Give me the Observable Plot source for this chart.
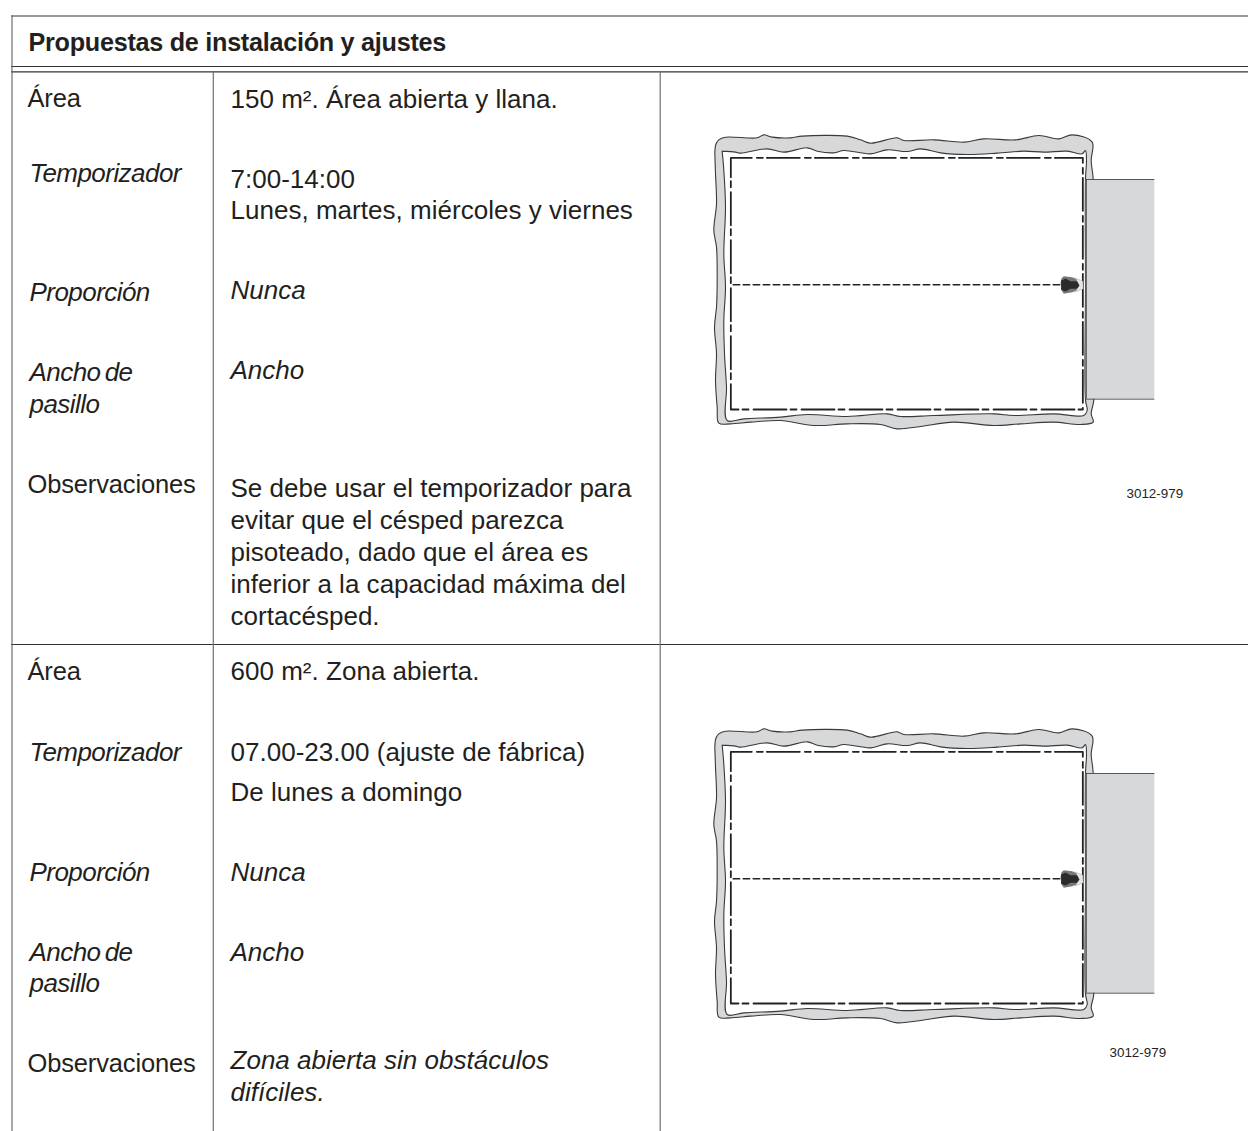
<!DOCTYPE html>
<html lang="es">
<head>
<meta charset="utf-8">
<title>Propuestas de instalación y ajustes</title>
<style>
html,body{margin:0;padding:0;background:#fff}
svg{display:block}
</style>
<script src="https://cdn.jsdelivr.net/npm/d3@7"></script>
<script src="https://cdn.jsdelivr.net/npm/@observablehq/plot@0.6"></script>
</head>
<body>
<div id="chart"></div>
<script>
const headerText = ["Propuestas de instalación y ajustes"];
const headerY = [50.5];

const labelTexts = ["Área","Temporizador","Proporción","Ancho de","pasillo","Observaciones","Área","Temporizador","Proporción","Ancho de","pasillo","Observaciones"];
const labelY = [106.7,181.7,300.7,380.7,412.3,492.3,679.5,760,880,960.7,991.7,1071.7];
const labelItalic = [false,true,true,true,true,false,false,true,true,true,true,false];

const valueTexts = ["150 m². Área abierta y llana.","7:00-14:00","Lunes, martes, miércoles y viernes","Nunca","Ancho","Se debe usar el temporizador para","evitar que el césped parezca","pisoteado, dado que el área es","inferior a la capacidad máxima del","cortacésped.","600 m². Zona abierta.","07.00-23.00 (ajuste de fábrica)","De lunes a domingo","Nunca","Ancho","Zona abierta sin obstáculos","difíciles."];
const valueY = [107,187.3,218.3,298.3,378.3,496.7,528.3,560,592.7,624,679.7,760,800,880,960.7,1068.3,1100.7];
const valueItalic = [false,false,false,true,true,false,false,false,false,false,false,false,false,true,true,true,true];

const codeTexts = ["3012-979","3012-979"];
const codeX = [1126,1109];
const codeY = [497,1056];

const hLines = [[11,1248,15.5],[11,1248,66],[11,1248,71.3],[11,1248,644]];
const vLines = [[11.5,15.5,1131],[212.8,71,1131],[659.7,71,1131]];

// Diagram outlines, read in 3x crop units
const lawnOuter = [[43,100],[46,72],[55,58],[75,50],[170,52],[190,43],[215,50],[270,52],[305,47],[440,47],[480,58],[510,68],[590,52],[610,60],[700,58],[790,65],[850,55],[945,58],[1015,45],[1075,55],[1115,43],[1175,65],[1172,120],[1178,175],[1178,500],[1180,838],[1172,880],[1178,905],[1140,912],[1060,905],[960,910],[880,915],[760,905],[660,918],[590,925],[540,912],[440,910],[340,915],[240,900],[150,905],[90,910],[55,908],[50,860],[45,780],[48,700],[42,620],[48,560],[50,480],[48,380],[40,330],[48,250],[45,160],[43,100]];
const lawnInner = [[65,92],[105,95],[120,98],[200,85],[250,95],[320,82],[350,92],[400,97],[430,90],[510,100],[560,88],[620,93],[660,85],[720,97],[800,102],[890,98],[970,92],[1030,95],[1100,92],[1145,100],[1155,90],[1158,120],[1155,175],[1155,500],[1155,838],[1160,870],[1150,885],[1060,880],[940,885],[880,880],[700,885],[600,888],[560,880],[440,888],[320,882],[240,890],[130,895],[80,900],[78,800],[72,700],[70,600],[75,500],[70,400],[75,260],[70,150],[65,92]];
const wire = [[91,112],[1147,112],[1147,867],[91,867],[91,112]];
const guide = [[98,493],[1080,493]];
const house = [1157,1363,177,836];
const mowerShell = [[1080,490],[1083,473],[1090,467],[1115,470],[1128,476],[1131,495],[1128,510],[1115,515],[1090,520],[1083,510]];
const mowerFront = [[1122,472],[1147,482],[1148,505],[1122,515]];
const mowerCore = [[1082,480],[1095,474],[1110,482],[1130,482],[1137,495],[1130,505],[1110,505],[1095,513],[1082,508]];
const diagramShift = [0,594];

const page = ([x,y],dy) => ({x: 700 + x/3, y: 120 + y/3 + dy});
const path = (pts,dy) => pts.map(p => page(p,dy));

const sans = "Liberation Sans, Arial, Helvetica, sans-serif";
const ink = "#231f20";
const spacing = (px,word=0) => (index,scales,values,dims,ctx,next) => {
  const g = next(index,scales,values,dims,ctx);
  g.style.letterSpacing = px + "px";
  g.style.wordSpacing = word + "px";
  return g;
};

const textRows = (texts,ys,it) => texts.map((t,i)=>({t,y:ys[i],it:it[i]}));
const labelRows = textRows(labelTexts,labelY,labelItalic);
const valueRows = textRows(valueTexts,valueY,valueItalic);

const textMark = (rows,x,opts) => Plot.text(rows,{x:()=>x,y:"y",text:"t",textAnchor:"start",lineAnchor:"bottom",fill:ink,fontFamily:sans,...opts});

const diagram = dy => {
  const [hx1,hx2,hy1,hy2] = house;
  const a = page([hx1,hy1],dy), b = page([hx2,hy2],dy);
  return [
    Plot.line(path(lawnOuter,dy),{x:"x",y:"y",curve:"catmull-rom",fill:"#d7d8da",stroke:"#3a3a3a",strokeWidth:1.1}),
    Plot.line(path(lawnInner,dy),{x:"x",y:"y",curve:"catmull-rom",fill:"#fff",stroke:"#3a3a3a",strokeWidth:1.1}),
    Plot.rect([{x1:a.x,x2:b.x,y1:a.y,y2:b.y}],{x1:"x1",x2:"x2",y1:"y1",y2:"y2",fill:"#d7d8da"}),
    Plot.ruleY([{x1:a.x,x2:b.x,y:a.y}],{x1:"x1",x2:"x2",y:"y",stroke:"#555",strokeWidth:1}),
    Plot.ruleY([{x1:a.x,x2:b.x,y:b.y}],{x1:"x1",x2:"x2",y:"y",stroke:"#555",strokeWidth:1}),
    Plot.ruleX([{x:a.x,y1:a.y,y2:b.y}],{x:"x",y1:"y1",y2:"y2",stroke:"#333",strokeWidth:1}),
    Plot.line(path(wire,dy),{x:"x",y:"y",stroke:"#222",strokeWidth:1.8,strokeDasharray:"33,5,6,4",strokeDashoffset:12}),
    Plot.line(path(guide,dy),{x:"x",y:"y",stroke:"#222",strokeWidth:1.5,strokeDasharray:"6.5,3.5"}),
    Plot.line(path(mowerFront,dy),{x:"x",y:"y",fill:"#e4e5e6",stroke:"#aaa",strokeWidth:0.5}),
    Plot.line(path(mowerShell,dy),{x:"x",y:"y",fill:"#777",stroke:"none"}),
    Plot.line(path(mowerCore,dy),{x:"x",y:"y",fill:"#2b2b2b",stroke:"none"})
  ];
};

const plot = Plot.plot({
  width:1248,height:1131,
  marginTop:0,marginRight:0,marginBottom:0,marginLeft:0,
  x:{domain:[0,1248],range:[0,1248],axis:null},
  y:{domain:[0,1131],range:[0,1131],axis:null},
  style:{background:"#fff"},
  marks:[
    Plot.ruleY(hLines.map(([x1,x2,y])=>({x1,x2,y})),{x1:"x1",x2:"x2",y:"y",stroke:"#333",strokeWidth:1.2}),
    Plot.ruleX(vLines.map(([x,y1,y2])=>({x,y1,y2})),{x:"x",y1:"y1",y2:"y2",stroke:"#6f6f6f",strokeWidth:1.2}),
    Plot.text(headerText.map((t,i)=>({t,y:headerY[i]})),{x:()=>28,y:"y",text:"t",textAnchor:"start",lineAnchor:"bottom",fill:ink,fontFamily:sans,fontWeight:"bold",fontSize:25.2,render:spacing(-0.27)}),
    textMark(labelRows.filter(d=>!d.it),27,{fontSize:25.5,render:spacing(-0.15)}),
    textMark(labelRows.filter(d=>d.it),29,{fontSize:26,fontStyle:"italic",render:spacing(-0.55,-2.5)}),
    textMark(valueRows.filter(d=>!d.it),230,{fontSize:26,render:spacing(0.02)}),
    textMark(valueRows.filter(d=>d.it),230,{fontSize:26,fontStyle:"italic",render:spacing(0.02)}),
    Plot.text(codeTexts.map((t,i)=>({t,x:codeX[i],y:codeY[i]})),{x:"x",y:"y",text:"t",textAnchor:"start",lineAnchor:"bottom",fill:ink,fontFamily:sans,fontSize:13.4}),
    ...diagramShift.flatMap(diagram)
  ]
});
document.getElementById("chart").append(plot);
</script>
</body>
</html>
